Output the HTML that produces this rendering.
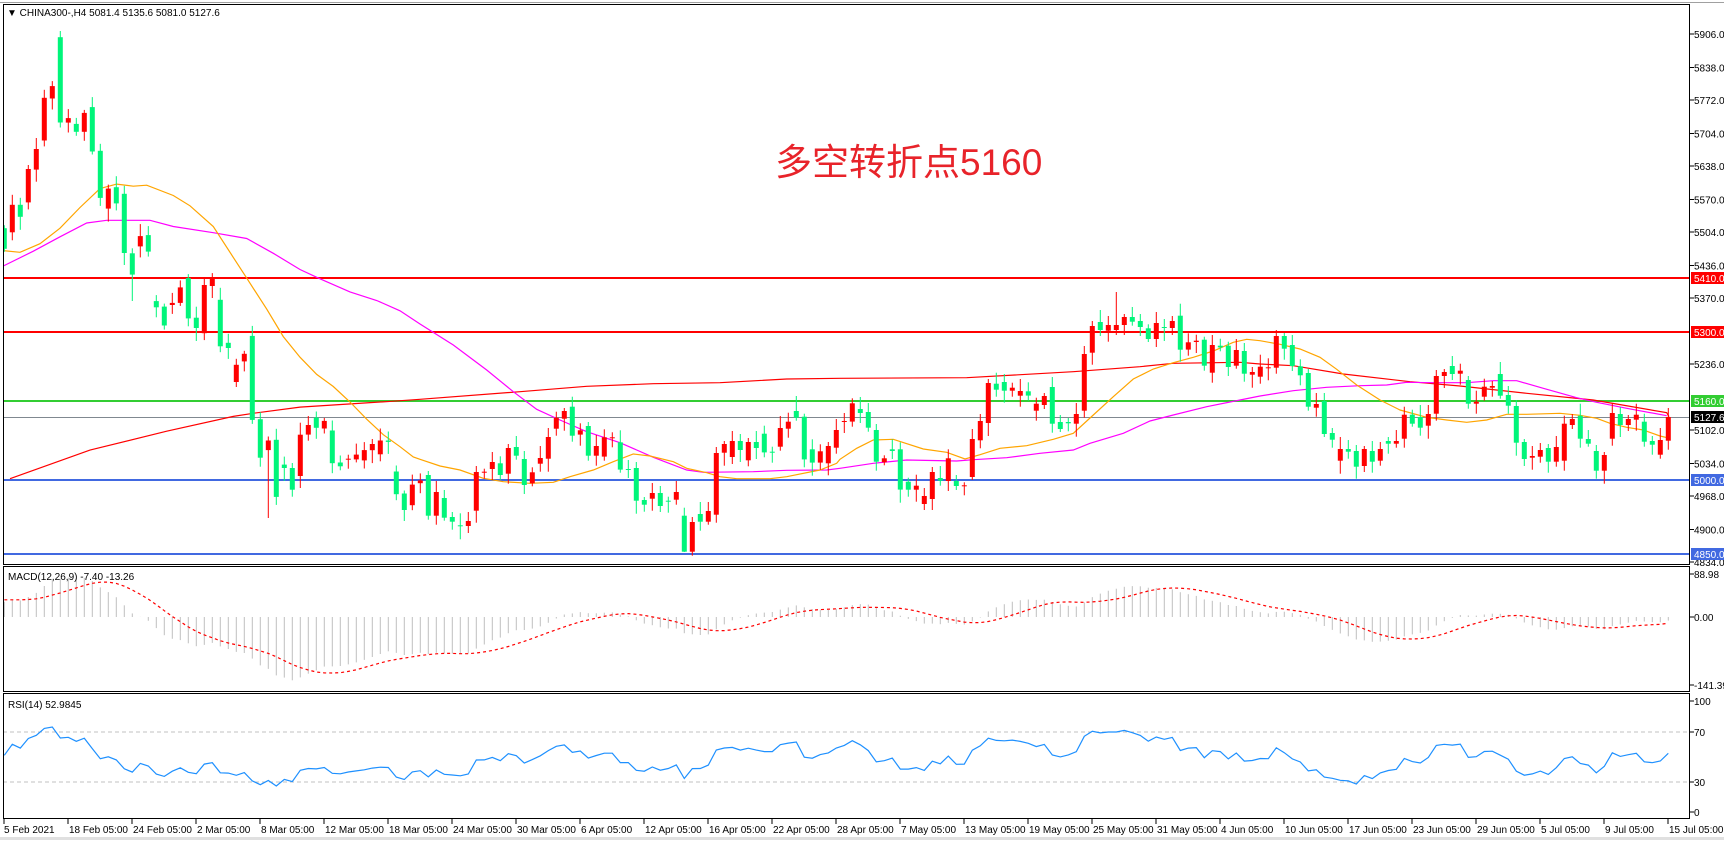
<!DOCTYPE html>
<html><head><meta charset="utf-8"><style>
html,body{margin:0;padding:0;background:#fff;}
svg{display:block;font-family:"Liberation Sans","Noto Sans CJK SC",sans-serif;}
</style></head><body>
<svg id="s" width="1724" height="841" xmlns="http://www.w3.org/2000/svg"></svg>
<script>
var S=document.getElementById('s');var out=[];
function A(t){out.push(t);}
function Y(p){return 34+(5906-p)*0.4925;}
A('<rect x="0" y="0" width="1724" height="841" fill="#fff"/>');
A('<line x1="0" y1="2.5" x2="1724" y2="2.5" stroke="#a0a0a0"/>');
A('<line x1="0" y1="838.5" x2="1724" y2="838.5" stroke="#e0e0e0" stroke-width="3"/>');
A('<defs><clipPath id="cm"><rect x="3" y="4" width="1687" height="561"/></clipPath><clipPath id="cd"><rect x="3" y="567" width="1687" height="125"/></clipPath><clipPath id="cr"><rect x="3" y="694" width="1687" height="125"/></clipPath></defs>');
var segs=[
[20,2.906,0,[[605,665,0],[537,617,1],[537,572,0],[433,530,1],[375,435,1],[226,350,1],[192,228,1],[50,298,0],[285,298,1],[302,325,0],[270,325,1],[253,382,0],[380,517,0],[490,548,1],[486,533,0],[505,677,0],[678,740,0],[628,658,1],[625,673,0],[817,835,0],[833,888,0],[822,828,1],[777,822,1],[750,867,0],[865,895,0],[770,910,1],[750,773,1],[813,948,0],[938,953,0],[1002,1052,1],[970,992,1],[918,1162,0],[1160,1272,0],[1222,1250,1],[1220,1386,0],[1292,1302,0],[1302,1365,0],[1205,1325,1],[1177,1205,1],[1155,1185,0],[1165,1187,1],[1193,1288,0],[1286,1297,0],[1275,1277,1],[1263,1277,1],[1250,1280,1],[1232,1250,1],[1222,1262,1],[1222,1226,0],[1312,1378,0],[1376,1424,0],[1350,1410,1],[1338,1346,1]]],
[250,3,53,[[675,797,0],[726,797,1],[744,803,0],[801,815,0],[826,829,0],[813,828,1],[666,782,1],[665,667,1],[636,657,1],[640,675,0],[594,671,1],[591,617,0],[627,705,0],[667,700,1],[624,641,1],[561,626,1],[503,536,1],[483,506,1],[470,557,0],[541,554,1],[528,617,0],[588,617,1],[562,620,1],[562,565,1],[577,659,0],[657,659,0],[654,752,0],[750,764,0],[729,746,1],[729,768,0],[752,754,0],[726,749,1],[797,905,0],[816,905,1],[792,815,0],[783,815,1],[609,794,1],[582,608,1],[573,621,1],[573,600,0],[576,631,1],[576,594,0],[551,607,0],[605,607,0],[534,590,1],[515,536,1],[483,503,0],[500,628,0],[598,638,0],[604,638,1],[588,640,1],[540,593,1]]],
[250,3,105,[[513,515,1],[460,515,1],[477,489,0],[486,533,0],[540,635,0],[625,637,1],[598,603,0],[598,719,0],[695,719,0],[707,719,1],[738,762,1],[666,747,1],[684,692,0],[625,693,1],[693,708,0],[706,709,1],[567,681,1],[513,571,1],[399,519,1],[401,419,0],[396,422,0],[413,422,1],[423,437,1],[424,437,0],[461,482,1],[438,465,1],[411,521,0],[516,537,0],[516,520,0],[492,521,1],[312,482,1],[228,308,1],[216,240,0],[225,242,1],[225,240,1],[201,225,1],[201,215,0],[213,231,0],[235,267,0],[219,267,1],[231,233,0],[213,234,1],[197,299,0],[277,299,1],[272,276,1],[269,347,0],[285,368,1],[287,292,0],[287,351,0],[300,347,1],[303,371,0],[366,374,1],[350,380,1]]],
[250,3,158,[[352,354,1],[258,353,1],[258,296,0],[285,348,0],[349,376,0],[369,470,0],[462,473,1],[453,552,0],[549,569,0],[597,632,1],[597,605,0],[603,650,0],[597,648,1],[603,635,0],[597,632,1],[573,581,0],[573,581,1],[494,566,1],[494,521,0],[501,533,0],[492,527,1],[378,491,1],[366,378,1],[348,372,0],[362,371,1],[390,461,0],[455,461,1],[410,440,1],[408,413,1],[372,437,0],[435,467,0],[468,578,0],[576,627,0],[618,623,1],[600,620,1],[594,635,0],[591,635,1],[521,632,1],[507,525,1],[497,566,0],[567,581,0],[603,662,0],[615,662,1],[489,566,1],[492,525,0],[507,525,1],[494,509,1],[515,575,0],[573,584,0],[570,614,1],[501,572,1]]]
];
var bars=[];
segs.forEach(function(s){s[3].forEach(function(b,j){var i=s[2]+j;if(bars[i])return;bars[i]={t:s[0]+b[0]/s[1],b:s[0]+b[1]/s[1],up:b[2]};});});
var ov={7:[31,null],16:[null,301],33:[null,518],139:[292,null],99:[396,null],85:[null,552]};
var cs='<g clip-path="url(#cm)">';
var closes=[];
bars.forEach(function(b,i){
 var x=4.3+8*i;var t=b.t,bt=b.b;if(bt-t<1){bt=t+1;}
 var hi=t-(3+(i*7)%10),lo=bt+(3+(i*5)%11);
 if(ov[i]){if(ov[i][0]!=null)hi=ov[i][0];if(ov[i][1]!=null)lo=ov[i][1];}
 var c=b.up?'#ff0000':'#00f57a';
 cs+='<line x1="'+x.toFixed(1)+'" y1="'+hi.toFixed(1)+'" x2="'+x.toFixed(1)+'" y2="'+lo.toFixed(1)+'" stroke="'+c+'" stroke-width="1"/>';
 cs+='<rect x="'+(x-2.5).toFixed(1)+'" y="'+t.toFixed(1)+'" width="5" height="'+(bt-t).toFixed(1)+'" fill="'+c+'"/>';
 var cy=b.up?b.t:b.b;closes.push(5906-(cy-34)/0.4925);
});
cs+='</g>';
function pl(pts,c,w){var s='';pts.forEach(function(p){s+=p[0].toFixed(1)+','+p[1].toFixed(1)+' ';});return '<polyline points="'+s+'" fill="none" stroke="'+c+'" stroke-width="'+(w||1)+'"/>';}
function conv(list){var r=[];list.forEach(function(g){g[3].forEach(function(p){r.push([g[0]+p[0]/3,g[1]+p[1]/g[2]]);});});return r;}
var orange=conv([[0,20,2.906,[[10,670],[60,675],[120,650],[180,605],[240,545],[300,490],[350,477],[400,483],[440,480],[520,510],[570,540],[640,600],[700,690],[740,750],[800,840],[850,920],[900,980],[950,1030],[1000,1065],[1050,1110],[1100,1160],[1150,1205],[1200,1240],[1240,1270]]],
[420,250,3,[[0,628],[60,648],[120,660],[190,685],[250,695],[330,700],[400,697],[450,680],[520,660],[580,635],[640,612],[690,618],[760,635],[800,655],[860,668],[900,680],[950,686],[1050,686],[1100,680],[1200,660],[1250,640]]],
[840,250,3,[[0,628],[50,595],[100,570],[160,568],[250,597],[320,607],[375,627],[420,614],[480,595],[560,587],[640,568],[700,550],[760,495],[820,440],[880,387],[940,357],[1000,338],[1060,322],[1120,303],[1180,277],[1220,268]]],
[1260,250,3,[[0,272],[60,283],[120,297],[180,322],[230,358],[290,405],[360,450],[420,480],[500,502],[560,510],[620,517],[680,510],[740,493],[800,493],[900,490],[960,496],[1010,505],[1050,520],[1100,532],[1150,540],[1200,558],[1222,563]]]]);
var mag=conv([[0,20,2.906,[[10,715],[100,672],[180,630],[260,590],[320,582],[450,582],[520,600],[640,618],[740,635],[820,678],[900,725],[960,752],[1050,790],[1130,815],[1200,845]]],
[420,250,3,[[0,222],[100,285],[200,360],[280,425],[350,478],[420,510],[500,545],[600,578],[700,622],[800,660],[850,667],[1000,665],[1100,661],[1220,660]]],
[840,250,3,[[0,655],[100,640],[200,630],[350,633],[400,629],[500,623],[600,610],[700,600],[750,580],[850,550],[930,513],[1000,495],[1100,470],[1200,450]]],
[1260,250,3,[[0,438],[100,422],[200,412],[300,407],[380,405],[440,397],[520,398],[620,398],[700,392],[770,392],[850,415],[950,443],[1010,457],[1100,475],[1220,497]]]]);
var rma=conv([[0,20,2.906,[[30,1333],[270,1250],[500,1195],[700,1152],[760,1143],[900,1125],[1175,1108]]],
[420,250,3,[[0,448],[300,425],[500,409],[700,401],[900,398],[1100,387]]],
[840,250,3,[[0,385],[380,383],[700,365],[900,350],[1000,340],[1200,337]]],
[1260,250,3,[[0,342],[100,347],[250,372],[450,395],[600,408],[800,430],[1000,450],[1220,488],[1227,500]]]]);
A('<g clip-path="url(#cm)">');
A('<line x1="3" y1="278" x2="1690" y2="278" stroke="#ff0000" stroke-width="2"/>');
A('<line x1="3" y1="332" x2="1690" y2="332" stroke="#ff0000" stroke-width="2"/>');
A('<line x1="3" y1="401" x2="1690" y2="401" stroke="#32cd32" stroke-width="2"/>');
A('<line x1="3" y1="417.5" x2="1690" y2="417.5" stroke="#808890" stroke-width="1"/>');
A('<line x1="3" y1="480" x2="1690" y2="480" stroke="#4169e1" stroke-width="2"/>');
A('<line x1="3" y1="554" x2="1690" y2="554" stroke="#4169e1" stroke-width="2"/>');
A('</g>');
A('<g clip-path="url(#cm)">'+pl(rma,'#ff0000',1.2)+pl(mag,'#ff00ff',1.2)+pl(orange,'#ffa500',1.2)+'</g>');
A(cs);
A('<text x="775" y="175" font-size="37" fill="#e8232a" font-family="Liberation Sans,Noto Sans CJK SC,sans-serif">多空转折点5160</text>');
A('<text x="7" y="16" font-size="10" fill="#000">▼ CHINA300-,H4  5081.4 5135.6 5081.0 5127.6</text>');
var pre=[];for(var k=0;k<40;k++)pre.push(5300+k*6+((k%2)?-15:15));
var all=pre.concat(closes);
var e12=all[0],e26=all[0],mac=[];var a12=2/13,a26=2/27;
var sigs=[];
all.forEach(function(c,i){e12=e12+a12*(c-e12);e26=e26+a26*(c-e26);var m=e12-e26;mac.push(m);var st=Math.max(0,mac.length-9);var sm=0;for(var q=st;q<mac.length;q++)sm+=mac[q];sigs.push(sm/(mac.length-st));});
function MY(v){return 617-v*0.482;}
var md='<g clip-path="url(#cd)">';var sp=[];
for(var i=0;i<closes.length;i++){var m=mac[i+40],x=4.3+8*i;md+='<line x1="'+x.toFixed(1)+'" y1="617" x2="'+x.toFixed(1)+'" y2="'+MY(m).toFixed(1)+'" stroke="#c0c0c0" stroke-width="1"/>';sp.push([x,MY(sigs[i+40])]);}
md+='<polyline points="'+sp.map(function(p){return p[0].toFixed(1)+','+p[1].toFixed(1)}).join(' ')+'" fill="none" stroke="#ff0000" stroke-width="1.2" stroke-dasharray="3,3"/></g>';
A(md);
A('<text x="8" y="580" font-size="10" fill="#000">MACD(12,26,9) -7.40 -13.26</text>');
var ag=0,al=0,rs=[];
for(var i=1;i<all.length;i++){var d=all[i]-all[i-1];var g=d>0?d:0,l=d<0?-d:0;if(i<=14){ag+=g/14;al+=l/14;}else{ag=(ag*13+g)/14;al=(al*13+l)/14;}rs.push(al==0?100:100-100/(1+ag/al));}
function RY(v){return 819.5-v*1.25;}
var rp=[];for(var i=0;i<closes.length;i++){rp.push([4.3+8*i,RY(rs[i+39])]);}
A('<line x1="3" y1="732" x2="1690" y2="732" stroke="#c0c0c0" stroke-dasharray="4,3"/>');
A('<line x1="3" y1="782" x2="1690" y2="782" stroke="#c0c0c0" stroke-dasharray="4,3"/>');
A('<g clip-path="url(#cr)">'+pl(rp,'#1e90ff',1.2)+'</g>');
A('<text x="8" y="708" font-size="10" fill="#000">RSI(14) 52.9845</text>');
A('<rect x="3.5" y="4.5" width="1686" height="560" fill="none" stroke="#000"/>');
A('<rect x="3.5" y="566.5" width="1686" height="125" fill="none" stroke="#000"/>');
A('<rect x="3.5" y="693.5" width="1686" height="125" fill="none" stroke="#000"/>');
var pls=[5906,5838,5772,5704,5638,5570,5504,5436,5370,5236,5102,5034,4968,4900,4834];
pls.forEach(function(p){var y=Y(p);A('<line x1="1690" y1="'+y.toFixed(1)+'" x2="1694" y2="'+y.toFixed(1)+'" stroke="#000"/><text x="1694" y="'+(y+4).toFixed(1)+'" font-size="10" fill="#000">'+p.toFixed(1)+'</text>');});
function tag(y,bg,t){A('<rect x="1691" y="'+(y-6)+'" width="33" height="12" fill="'+bg+'"/><text x="1694" y="'+(y+4)+'" font-size="10" fill="#fff">'+t+'</text>');}
tag(278,'#ff0000','5410.0');tag(332,'#ff0000','5300.0');tag(401,'#32cd32','5160.0');tag(417,'#000','5127.6');tag(480,'#4169e1','5000.0');tag(554,'#4169e1','4850.0');
[[574,'88.98'],[617,'0.00'],[685,'-141.39']].forEach(function(a){A('<line x1="1690" y1="'+a[0]+'" x2="1694" y2="'+a[0]+'" stroke="#000"/><text x="1694" y="'+(a[0]+4)+'" font-size="10" fill="#000">'+a[1]+'</text>');});
[[701,'100'],[732,'70'],[782,'30'],[812,'0']].forEach(function(a){A('<line x1="1690" y1="'+a[0]+'" x2="1694" y2="'+a[0]+'" stroke="#000"/><text x="1694" y="'+(a[0]+4)+'" font-size="10" fill="#000">'+a[1]+'</text>');});
var ds=['5 Feb 2021','18 Feb 05:00','24 Feb 05:00','2 Mar 05:00','8 Mar 05:00','12 Mar 05:00','18 Mar 05:00','24 Mar 05:00','30 Mar 05:00','6 Apr 05:00','12 Apr 05:00','16 Apr 05:00','22 Apr 05:00','28 Apr 05:00','7 May 05:00','13 May 05:00','19 May 05:00','25 May 05:00','31 May 05:00','4 Jun 05:00','10 Jun 05:00','17 Jun 05:00','23 Jun 05:00','29 Jun 05:00','5 Jul 05:00','9 Jul 05:00','15 Jul 05:00'];
ds.forEach(function(d,k){var x=4+64*k;A('<line x1="'+x+'" y1="819" x2="'+x+'" y2="824" stroke="#000"/><text x="'+(x+(k==0?0:1))+'" y="833" font-size="10" fill="#000">'+d+'</text>');});
S.innerHTML=out.join('');
</script>
</body></html>
